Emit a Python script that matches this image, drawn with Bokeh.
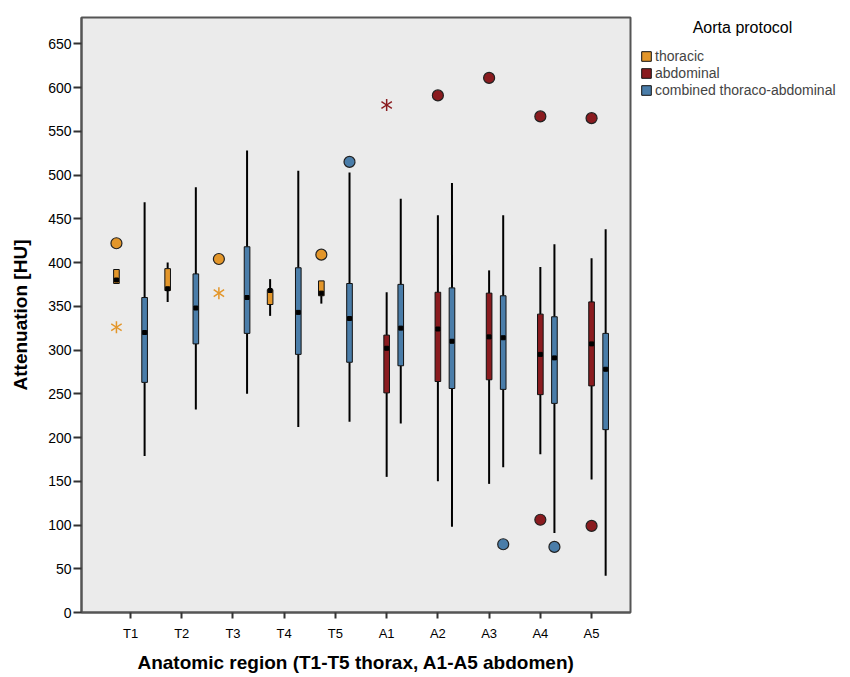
import numpy as np
from bokeh.plotting import figure
from bokeh.models import (ColumnDataSource, Range1d, FixedTicker, Legend, LegendItem, Label)
from bokeh.embed import file_html
from bokeh.resources import INLINE

nan = float("nan")

categories = ["T1", "T2", "T3", "T4", "T5", "A1", "A2", "A3", "A4", "A5"]
groups = ["thoracic", "abdominal", "combined thoraco-abdominal"]
legend_title = "Aorta protocol"

# thoracic protocol (T1..T5)
th_cats = ["T1", "T2", "T3", "T4", "T5"]
th_lo = [376, 355, nan, 339, 353]
th_q1 = [376, 368, nan, 352, 362]
th_med = [380, 370, nan, 368, 365]
th_q3 = [392, 393, nan, 369, 379]
th_hi = [392, 400, nan, 381, 379]
th_out_cats = ["T1", "T3", "T5"]
th_out_vals = [422, 404, 409]
th_ext_cats = ["T1", "T3"]
th_ext_vals = [326, 365]

# abdominal protocol (A1..A5)
ab_cats = ["A1", "A2", "A3", "A4", "A5"]
ab_lo = [155, 150, 147, 181, 152]
ab_q1 = [251, 264, 266, 249, 259]
ab_med = [302, 324, 315, 295, 307]
ab_q3 = [317, 366, 365, 341, 355]
ab_hi = [366, 454, 391, 395, 405]
ab_out_cats = ["A2", "A3", "A4", "A4", "A5", "A5"]
ab_out_vals = [591, 611, 567, 106, 565, 99]
ab_ext_cats = ["A1"]
ab_ext_vals = [580]

# combined thoraco-abdominal protocol (T1..A5)
co_cats = categories
co_lo = [179, 232, 250, 212, 218, 216, 98, 166, 91, 42]
co_q1 = [263, 307, 319, 295, 286, 282, 256, 255, 239, 209]
co_med = [320, 348, 360, 343, 336, 325, 310, 314, 291, 278]
co_q3 = [360, 387, 418, 394, 376, 375, 371, 362, 338, 319]
co_hi = [469, 486, 528, 505, 503, 473, 491, 454, 421, 438]
co_out_cats = ["T5", "A3", "A4"]
co_out_vals = [515, 78, 75]

colors = ["#E3962A", "#8A1B1F", "#4A7DA9"]
offsets = [-0.275, 0.0, 0.275]

y_ticks = list(range(0, 651, 50))

p = figure(frame_width=549, frame_height=595, output_backend="svg",
           toolbar_location=None, x_range=Range1d(0.043, 10.76),
           y_range=Range1d(0, 680))
p.min_border_left = 81
p.min_border_top = 8
p.min_border_right = 0
p.min_border_bottom = 0
p.background_fill_color = "#EBEBEB"
p.border_fill_color = "white"
p.outline_line_color = "#555555"
p.outline_line_width = 2
p.grid.visible = False

pos = {c: i + 1 for i, c in enumerate(categories)}

def xs(cats, gi):
    return [pos[c] + offsets[gi] for c in cats]

box_renderers = []
datasets = [
    (th_cats, th_lo, th_q1, th_med, th_q3, th_hi, th_out_cats, th_out_vals, th_ext_cats, th_ext_vals),
    (ab_cats, ab_lo, ab_q1, ab_med, ab_q3, ab_hi, ab_out_cats, ab_out_vals, ab_ext_cats, ab_ext_vals),
    (co_cats, co_lo, co_q1, co_med, co_q3, co_hi, co_out_cats, co_out_vals, [], []),
]

for gi, (cats, lo, q1, med, q3, hi, oc, ov, ec, ev) in enumerate(datasets):
    src = ColumnDataSource(dict(x=xs(cats, gi), lo=lo, q1=q1, med=med, q3=q3, hi=hi))
    p.segment(x0="x", y0="hi", x1="x", y1="q3", source=src, line_color="black", line_width=2)
    p.segment(x0="x", y0="lo", x1="x", y1="q1", source=src, line_color="black", line_width=2)
    r = p.vbar(x="x", bottom="q1", top="q3", width=0.11, source=src,
               fill_color=colors[gi], line_color="#111111", line_width=1)
    box_renderers.append(r)
    p.scatter(x="x", y="med", source=src, marker="square", size=4,
              fill_color="black", line_color="black")
    if oc:
        p.scatter(x=xs(oc, gi), y=ov, marker="circle", size=11,
                  fill_color=colors[gi], line_color="#222222", line_width=1.2)
    if ec:
        # six-armed asterisk: a "y" mark and its upside-down copy
        p.scatter(x=xs(ec, gi), y=ev, marker="y", size=12, angle=0,
                  line_color=colors[gi], line_width=1.5)
        p.scatter(x=xs(ec, gi), y=ev, marker="y", size=12, angle=np.pi,
                  line_color=colors[gi], line_width=1.5)

# axes
p.xaxis.ticker = FixedTicker(ticks=[pos[c] for c in categories])
p.xaxis.major_label_overrides = {pos[c]: c for c in categories}
p.yaxis.ticker = FixedTicker(ticks=y_ticks)
for ax in (p.xaxis[0], p.yaxis[0]):
    ax.axis_line_color = "#555555"
    ax.axis_line_width = 2
    ax.major_tick_line_color = "#333333"
    ax.major_tick_line_width = 2
    ax.major_tick_in = 0
    ax.minor_tick_line_color = None
    ax.major_label_text_font = "Liberation Sans"
    ax.major_label_text_color = "black"
    ax.axis_label_text_font = "Liberation Sans"
    ax.axis_label_text_font_style = "bold"
    ax.axis_label_text_font_size = "19px"
    ax.axis_label_text_color = "black"

p.yaxis.major_tick_out = 8
p.yaxis.major_label_standoff = 2
p.yaxis.major_label_text_font_size = "14px"
p.yaxis.axis_label = "Attenuation [HU]"
p.yaxis.axis_label_standoff = 14

p.xaxis.major_tick_out = 6
p.xaxis.major_label_standoff = 7
p.xaxis.major_label_text_font_size = "13px"
p.xaxis.axis_label = "Anatomic region (T1-T5 thorax, A1-A5 abdomen)"
p.xaxis.axis_label_standoff = 8

legend = Legend(items=[LegendItem(label=groups[i], renderers=[box_renderers[i]]) for i in range(3)],
                location=(10, 514))
legend.label_text_font = "Liberation Sans"
legend.label_text_font_size = "14px"
legend.glyph_width = 12
legend.glyph_height = 12
legend.label_height = 14
legend.label_standoff = 3
legend.spacing = 1
legend.padding = 0
legend.margin = 10
legend.border_line_color = None
legend.background_fill_alpha = 0
p.add_layout(legend, "right")

# legend heading, centred over the legend entries
title_label = Label(x=661, y=-10, x_units="screen", y_units="screen", text=legend_title,
                    text_align="center", text_baseline="middle",
                    text_font="Liberation Sans", text_font_size="16px", text_color="black")
p.add_layout(title_label, "above")

open("out.html", "w").write(file_html(p, INLINE))
